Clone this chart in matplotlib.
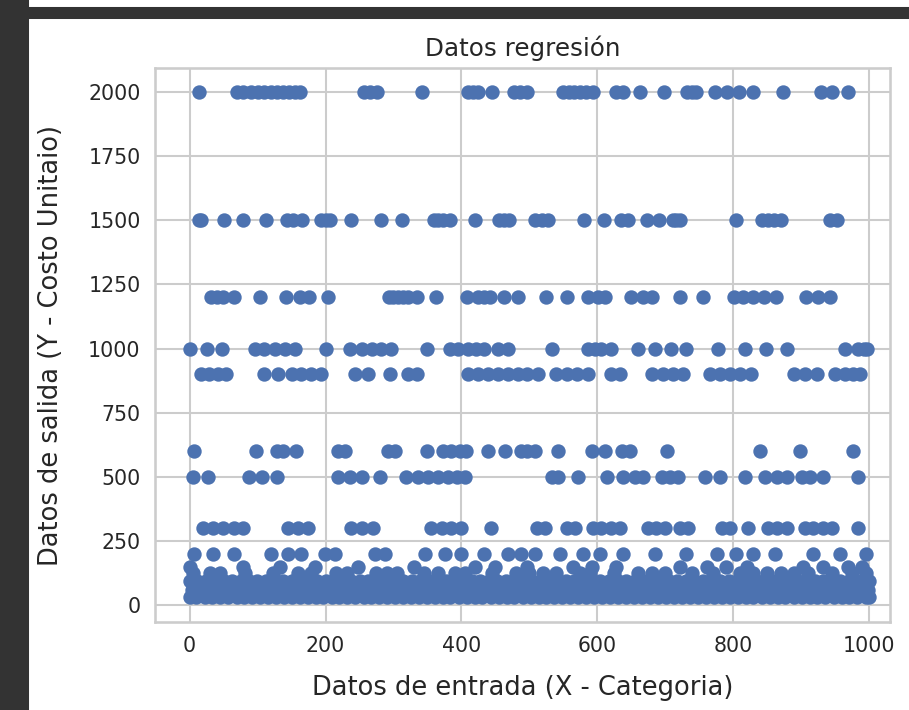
import numpy as np
import matplotlib.pyplot as plt
import seaborn as sns
from matplotlib.patches import Rectangle

# x positions of the points at each cost level
x_2000 = [14, 69, 78, 90, 100, 110, 120, 128, 138, 146, 155, 162, 256, 265, 276, 342,
          410, 417, 425, 445, 477, 487, 497, 549, 558, 566, 575, 583, 594, 628, 638,
          663, 698, 732, 739, 746, 773, 791, 808, 829, 873, 929, 946, 969]
x_1500 = [14, 17, 51, 78, 112, 144, 152, 166, 193, 200, 207, 238, 281, 313, 359, 366,
          373, 383, 420, 456, 463, 470, 508, 518, 528, 580, 610, 635, 646, 673, 691,
          711, 716, 722, 805, 843, 852, 860, 870, 943, 953]
x_1200 = [31, 40, 49, 66, 104, 142, 162, 176, 203, 294, 300, 307, 314, 321, 335, 363,
          408, 425, 433, 442, 463, 484, 525, 556, 587, 601, 611, 649, 667, 680, 722,
          756, 801, 815, 829, 846, 863, 908, 925, 943]
x_1000 = [0, 25, 47, 96, 110, 125, 140, 155, 201, 236, 253, 268, 282, 297, 349, 383,
          395, 410, 422, 434, 454, 469, 533, 587, 596, 606, 621, 660, 685, 709, 731,
          778, 817, 849, 879, 965, 984, 992, 997]
x_900 = [17, 29, 42, 54, 110, 130, 150, 164, 179, 194, 243, 263, 295, 322, 334, 410,
         425, 439, 454, 469, 484, 496, 513, 540, 555, 570, 587, 621, 633, 680, 697,
         712, 727, 766, 781, 795, 810, 827, 889, 906, 923, 950, 965, 977, 987]
x_600 = [7, 98, 128, 137, 157, 218, 228, 292, 302, 349, 373, 385, 398, 407, 439, 464,
         488, 496, 508, 542, 592, 611, 636, 648, 702, 839, 898, 977]
x_500 = [5, 27, 88, 106, 128, 218, 236, 253, 280, 319, 336, 351, 366, 380, 393, 405,
         533, 542, 572, 614, 638, 655, 668, 695, 707, 719, 758, 781, 817, 847, 864,
         879, 901, 913, 933, 984]
x_300 = [20, 34, 49, 66, 79, 145, 160, 174, 238, 253, 270, 356, 371, 385, 400, 444,
         511, 523, 555, 567, 594, 606, 621, 633, 675, 687, 700, 722, 734, 783, 795,
         822, 852, 864, 879, 906, 918, 933, 945, 984]
x_200 = [7, 34, 66, 120, 145, 164, 199, 214, 273, 287, 346, 376, 400, 434, 469, 488,
         508, 545, 579, 604, 638, 685, 731, 776, 805, 830, 861, 917, 957, 996]
x_150 = [0, 79, 133, 184, 248, 331, 420, 449, 496, 565, 592, 628, 722, 761, 790, 820,
         903, 932, 969, 990]
x_125 = [5, 30, 45, 82, 122, 160, 178, 215, 232, 275, 290, 305, 345, 365, 390, 405,
         445, 480, 500, 520, 540, 575, 590, 625, 660, 680, 700, 740, 770, 810, 830,
         850, 870, 890, 910, 945, 975, 995]
x_95 = [0, 11, 24, 36, 50, 62, 75, 88, 99, 112, 125, 137, 150, 162, 175, 188, 200,
        213, 226, 238, 251, 263, 276, 289, 301, 314, 327, 339, 352, 364, 377, 390,
        402, 415, 428, 440, 453, 465, 478, 491, 503, 516, 529, 541, 554, 566, 579,
        592, 604, 617, 630, 642, 655, 667, 680, 693, 705, 718, 731, 743, 756, 768,
        781, 794, 806, 819, 832, 844, 857, 869, 882, 895, 907, 920, 933, 945, 958,
        970, 983, 996, 1000]
x_60 = [4, 16, 29, 41, 54, 67, 79, 92, 104, 117, 130, 142, 155, 167, 180, 193, 205,
        218, 230, 243, 256, 268, 281, 293, 306, 319, 331, 344, 356, 369, 382, 394,
        407, 419, 432, 445, 457, 470, 482, 495, 508, 520, 533, 545, 558, 571, 583,
        596, 608, 621, 634, 646, 659, 671, 684, 697, 709, 722, 734, 747, 760, 772,
        785, 797, 810, 823, 835, 848, 860, 873, 886, 898, 911, 923, 936, 949, 961,
        974, 986, 998]
x_30 = [1, 10, 22, 33, 45, 57, 69, 80, 92, 103, 115, 127, 139, 150, 162, 174, 186,
        197, 209, 220, 232, 244, 256, 267, 279, 291, 303, 314, 326, 337, 349, 361,
        373, 384, 396, 408, 420, 431, 443, 455, 467, 478, 490, 502, 514, 525, 537,
        548, 560, 572, 584, 595, 607, 619, 631, 642, 654, 666, 678, 689, 701, 713,
        725, 736, 748, 760, 772, 783, 795, 807, 819, 830, 842, 854, 866, 877, 889,
        901, 913, 924, 936, 948, 960, 971, 983, 995, 1000]

levels = [(2000, x_2000), (1500, x_1500), (1200, x_1200), (1000, x_1000),
          (900, x_900), (600, x_600), (500, x_500), (300, x_300), (200, x_200),
          (150, x_150), (125, x_125), (95, x_95), (60, x_60), (30, x_30)]

X = np.concatenate([np.array(xs, dtype=float) for _, xs in levels])
Y = np.concatenate([np.full(len(xs), float(v)) for v, xs in levels])

sns.set_theme(style="whitegrid")

fig = plt.figure(figsize=(909 / 148, 710 / 148), dpi=148)
ax = fig.add_axes([155 / 909, 88 / 710, 735 / 909, 554 / 710])

ax.scatter(X, Y, color="#4C72B0")
ax.set_xlim(-51, 1031)
ax.set_ylim(-66, 2094)
ax.tick_params(labelsize=10, length=3.5, pad=3.5)
ax.set_title("Datos regresión")
ax.set_xlabel("Datos de entrada (X - Categoria)", fontsize=12.5)
ax.set_ylabel("Datos de salida (Y - Costo Unitaio)", fontsize=12.5)
ax.yaxis.set_label_coords(-0.124, 0.5)
ax.xaxis.set_label_coords(0.5, -0.095)

# dark notebook frame around the output cell
fig.patches.append(Rectangle((0, 0), 28 / 909, 1, transform=fig.transFigure,
                             color="#333333", zorder=-1))
fig.patches.append(Rectangle((0, 1 - 18 / 710), 1, 10 / 710, transform=fig.transFigure,
                             color="#333333", zorder=-1))

fig.savefig("out.png", dpi=148)
